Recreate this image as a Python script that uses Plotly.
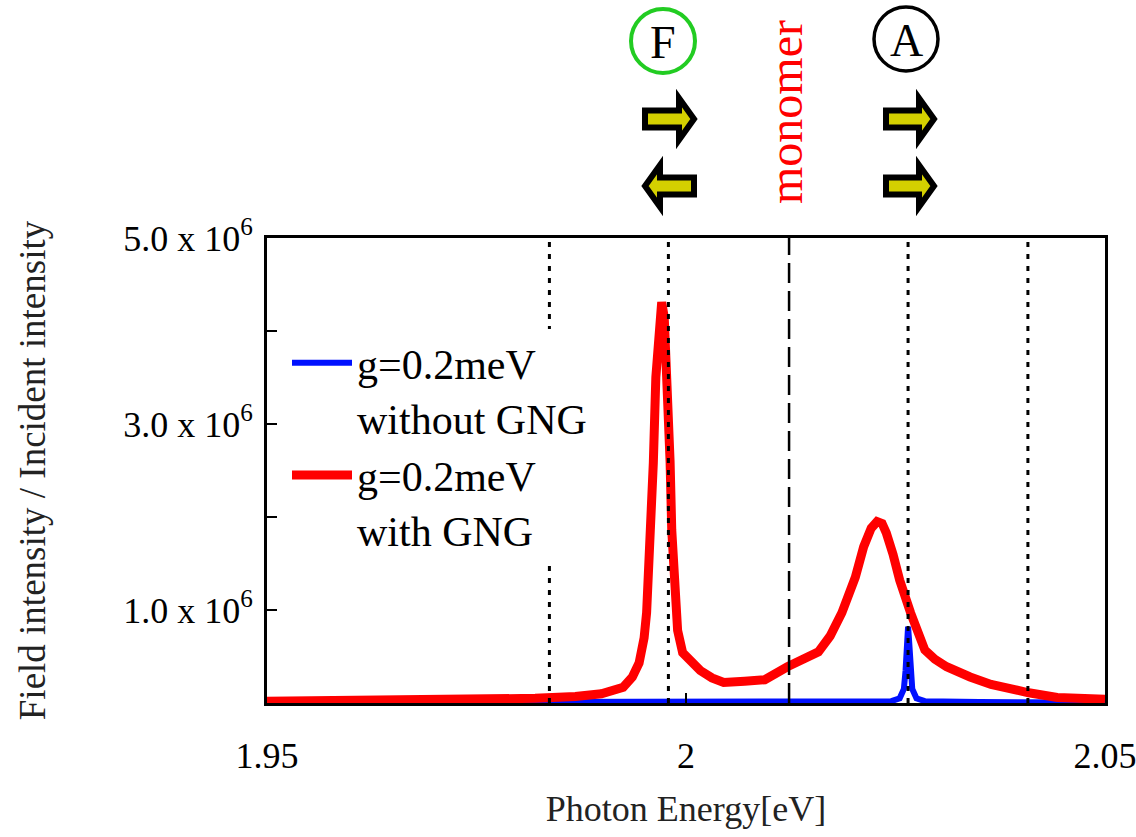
import plotly.graph_objects as go

# ---------------- data ----------------
energy_red = [1.9500, 1.9659, 1.9820, 1.9868, 1.9899, 1.9925, 1.9936, 1.9944, 1.9950, 1.9953,
              1.9957, 1.9961, 1.9964, 1.9967, 1.9969, 1.9971, 1.9974, 1.9977, 1.9981, 1.9983,
              1.9987, 1.9990, 1.9996, 2.0005, 2.0017, 2.0031, 2.0045, 2.0070, 2.0094, 2.0121,
              2.0158, 2.0172, 2.0186, 2.0202, 2.0212, 2.0221, 2.0228, 2.0234, 2.0239, 2.0247,
              2.0255, 2.0268, 2.0277, 2.0285, 2.0297, 2.0311, 2.0339, 2.0364, 2.0409, 2.0443,
              2.0500]
intensity_red = [0.02e6, 0.03e6, 0.05e6, 0.07e6, 0.10e6, 0.17e6, 0.28e6, 0.43e6, 0.70e6, 0.97e6,
                 1.60e6, 2.58e6, 3.50e6, 4.00e6, 4.28e6, 4.31e6, 4.15e6, 3.66e6, 2.60e6, 1.86e6,
                 1.20e6, 0.78e6, 0.54e6, 0.45e6, 0.35e6, 0.27e6, 0.22e6, 0.235e6, 0.25e6, 0.39e6,
                 0.55e6, 0.72e6, 0.97e6, 1.35e6, 1.68e6, 1.88e6, 1.95e6, 1.93e6, 1.83e6, 1.60e6,
                 1.32e6, 0.97e6, 0.75e6, 0.57e6, 0.47e6, 0.39e6, 0.28e6, 0.20e6, 0.11e6, 0.06e6,
                 0.04e6]

energy_blue = [1.950, 1.980, 2.020, 2.0245, 2.0255, 2.0260, 2.0262, 2.0264, 2.0265, 2.0266,
               2.0268, 2.0270, 2.0275, 2.0285, 2.035, 2.050]
intensity_blue = [0.005e6, 0.006e6, 0.01e6, 0.02e6, 0.05e6, 0.15e6, 0.35e6, 0.70e6, 0.82e6, 0.70e6,
                  0.35e6, 0.15e6, 0.05e6, 0.02e6, 0.01e6, 0.005e6]

dotted_energies = [1.9837, 1.9979, 2.0265, 2.0408]
monomer_energy = 2.0123

x_tickvals = [1.95, 2.0, 2.05]
x_ticktext = ["1.95", "2", "2.05"]
y_tickvals = [1e6, 3e6, 5e6]
y_ticktext = ["1.0 x 10<sup>6</sup>", "3.0 x 10<sup>6</sup>", "5.0 x 10<sup>6</sup>"]
y_minor_step = 1e6

legend_blue = "g=0.2meV<br>without GNG"
legend_red = "g=0.2meV<br>with GNG"

# ---------------- layout geometry ----------------
W, H = 1136, 837
L, R, T, B = 267, 31, 238, 134
PW, PH = W - L - R, H - T - B
FONT = "Liberation Serif, Times New Roman, serif"


def px(xp):
    return (xp - L) / PW


def py(yp):
    return (T + PH - yp) / PH


fig = go.Figure()
fig.add_trace(go.Scatter(x=energy_blue, y=intensity_blue, mode="lines", name=legend_blue,
                         line=dict(color="#0010ff", width=6)))
fig.add_trace(go.Scatter(x=energy_red, y=intensity_red, mode="lines", name=legend_red,
                         line=dict(color="#ff0000", width=9)))

shapes = []
for e in dotted_energies:
    shapes.append(dict(type="line", xref="x", yref="paper", x0=e, x1=e, y0=0, y1=1,
                       line=dict(color="black", width=3, dash="5px,7px"), layer="above"))
shapes.append(dict(type="line", xref="x", yref="paper", x0=monomer_energy, x1=monomer_energy,
                   y0=0, y1=1, line=dict(color="black", width=2.5, dash="20px,8px"), layer="above"))


def arrow_path(x0, x1, yc, right=True, sh=8.5, hh=21, head=15):
    if right:
        hb = x1 - head
        pts = [(x0, yc - sh), (hb, yc - sh), (hb, yc - hh), (x1, yc), (hb, yc + hh),
               (hb, yc + sh), (x0, yc + sh)]
    else:
        hb = x0 + head
        pts = [(x1, yc - sh), (hb, yc - sh), (hb, yc - hh), (x0, yc), (hb, yc + hh),
               (hb, yc + sh), (x1, yc + sh)]
    return "M " + " L ".join(f"{px(a):.5f},{py(b):.5f}" for a, b in pts) + " Z"


for (x0, x1, yc, right) in [(645, 694, 119, True), (645, 694, 186, False),
                            (886, 934, 119, True), (886, 934, 186, True)]:
    shapes.append(dict(type="path", xref="paper", yref="paper", path=arrow_path(x0, x1, yc, right),
                       fillcolor="#d4d000", line=dict(color="black", width=6), layer="above"))

# circles around F and A
for cx, cy, r, col, lw in [(663, 41, 32, "#22cc22", 4), (906, 39, 32, "black", 3.5)]:
    shapes.append(dict(type="circle", xref="paper", yref="paper",
                       x0=px(cx - r), x1=px(cx + r), y0=py(cy + r), y1=py(cy - r),
                       line=dict(color=col, width=lw), fillcolor="rgba(0,0,0,0)"))

annotations = [
    dict(text="F", x=px(663), y=py(42), xref="paper", yref="paper", showarrow=False,
         font=dict(family=FONT, size=46, color="black"), xanchor="center", yanchor="middle"),
    dict(text="A", x=px(906), y=py(40), xref="paper", yref="paper", showarrow=False,
         font=dict(family=FONT, size=46, color="black"), xanchor="center", yanchor="middle"),
    dict(text="monomer", x=px(786), y=py(112), xref="paper", yref="paper", showarrow=False,
         textangle=-90, font=dict(family=FONT, size=48, color="#ff0000"),
         xanchor="center", yanchor="middle"),
]

fig.update_layout(
    width=W, height=H,
    margin=dict(l=L, r=R, t=T, b=B, autoexpand=False),
    paper_bgcolor="white", plot_bgcolor="white",
    font=dict(family=FONT, color="black"),
    shapes=shapes, annotations=annotations,
    showlegend=True,
    legend=dict(x=px(287), y=py(329), xanchor="left", yanchor="top",
                bgcolor="white", borderwidth=0, valign="top", itemwidth=60,
                font=dict(family=FONT, size=42, color="black"), tracegroupgap=10),
)

fig.update_xaxes(range=[1.95, 2.05], tickvals=x_tickvals, ticktext=x_ticktext,
                 showline=True, mirror=True, linecolor="black", linewidth=3,
                 ticks="inside", ticklen=10, tickwidth=2, tickcolor="black",
                 showgrid=False, zeroline=False, ticklabelstandoff=19,
                 ticklabeloverflow="allow",
                 tickfont=dict(family=FONT, size=36, color="black"),
                 title=dict(text="Photon Energy[eV]", standoff=21,
                            font=dict(family=FONT, size=36, color="#222222")))
fig.update_yaxes(range=[0, 5e6], tickvals=y_tickvals, ticktext=y_ticktext,
                 showline=True, mirror=True, linecolor="black", linewidth=3,
                 ticks="inside", ticklen=10, tickwidth=2, tickcolor="black",
                 minor=dict(ticks="inside", ticklen=10, tickwidth=2, tickcolor="black",
                            tick0=0, dtick=y_minor_step, showgrid=False),
                 showgrid=False, zeroline=False, ticklabelstandoff=4,
                 tickfont=dict(family=FONT, size=36, color="black"),
                 title=dict(text="Field intensity / Incident intensity", standoff=67,
                            font=dict(family=FONT, size=37, color="#222222")))

fig.write_html("out.html", config={"displayModeBar": False},
               post_script="document.body.style.margin='0px';")
